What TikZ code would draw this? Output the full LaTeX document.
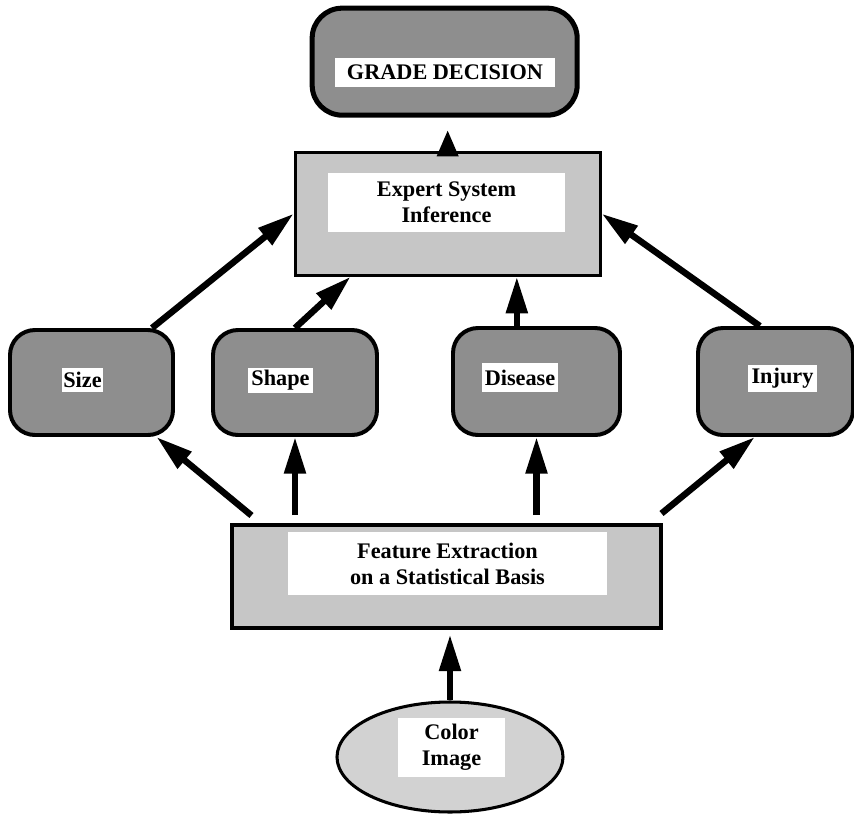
\documentclass[tikz,border=0pt]{standalone}
\usepackage{fontspec}
\setmainfont{Liberation Serif}
\usetikzlibrary{arrows.meta,shapes.geometric}
\definecolor{shade-dark}{HTML}{8E8E8E}
\definecolor{shade-light}{HTML}{C6C6C6}
\definecolor{shade-pale}{HTML}{D2D2D2}

\begin{document}
\begin{tikzpicture}[every node/.style={font=\fontsize{19}{22}\selectfont\bfseries},
    roundbox/.style={draw, line width=3.4pt, fill=shade-dark, rounded corners=0.75cm},
    rectbox/.style={draw, line width=2.6pt, fill=shade-light},
    tag/.style={fill=white, inner sep=0pt, align=center},
    arr/.style={-{Triangle[length=1.1cm,width=0.62cm]}, line width=5.5pt}]
    \useasboundingbox (0,0) rectangle (25.62,-24.42);
    % top of the chain
    \node[roundbox, line width=4.3pt, rounded corners=0.9cm, minimum width=7.95cm,
      minimum height=3.21cm] (gd) at (13.34, -1.85) {};
    \node[tag, minimum width=6.6cm, minimum height=0.87cm] (gdt) at (13.35, -2.175)
      {GRADE DECISION};
    \node[rectbox, minimum width=9.15cm, minimum height=3.69cm] (es) at (13.43, -6.41) {};
    \node[tag, minimum width=7.11cm, minimum height=1.77cm] (est) at (13.395, -6.075)
      {Expert System\\Inference};
    % feature row
    \node[roundbox, minimum width=4.89cm, minimum height=3.15cm] (sz) at (2.745, -11.475) {};
    \node[tag, minimum width=1.23cm, minimum height=0.72cm] (szt) at (2.475, -11.4) {Size};
    \node[roundbox, minimum width=4.92cm, minimum height=3.15cm] (sh) at (8.85, -11.475) {};
    \node[tag, minimum width=1.95cm, minimum height=0.75cm] (sht) at (8.415, -11.415) {Shape};
    \node[roundbox, minimum width=5.01cm, minimum height=3.21cm] (ds) at (16.095, -11.445) {};
    \node[tag, minimum width=2.28cm, minimum height=0.87cm] (dst) at (15.6, -11.325) {Disease};
    \node[roundbox, minimum width=4.65cm, minimum height=3.21cm] (ij) at (23.265, -11.445) {};
    \node[tag, minimum width=2.07cm, minimum height=0.81cm] (ijt) at (23.475, -11.355) {Injury};
    % extraction and input
    \node[rectbox, minimum width=12.87cm, minimum height=3.09cm] (fe) at (13.395, -17.295) {};
    \node[tag, minimum width=9.57cm, minimum height=1.89cm] (fet) at (13.425, -16.905)
      {Feature Extraction\\on a Statistical Basis};
    \node[ellipse, draw, line width=2.6pt, fill=shade-pale, minimum width=6.78cm,
      minimum height=3.3cm] (ci) at (13.5, -22.71) {};
    \node[tag, minimum width=3.21cm, minimum height=1.77cm] (cit) at (13.545, -22.425)
      {Color\\Image};
    % arrows
    \draw[-{Triangle[length=0.8cm,width=0.6cm]}, line width=5.5pt, shorten >=0.36cm]
      (es.north) -- (es.north |- gd.south);
    \draw[arr] (sz.42) -- (es.west);
    \draw[arr] (sh.north) -- (es.213);
    \draw[arr] ([xshift=-0.59cm]ds.north) -- ([xshift=-0.59cm]ds.north |- es.south);
    \draw[arr] ([xshift=-0.47cm]ij.north) -- (es.east);
    \draw[arr] ([xshift=0.63cm, yshift=0.24cm]fe.north west) -- (sz.-40);
    \draw[arr, shorten <=0.25cm] (fe.north -| sh.south) -- (sh.south);
    \draw[arr, shorten <=0.25cm] (fe.north -| ds.south) -- (ds.south);
    \draw[arr] ([xshift=-0.03cm, yshift=0.3cm]fe.north east) -- ([xshift=-0.62cm]ij.south);
    \draw[arr, shorten >=0.15cm] (ci.north) -- (ci.north |- fe.south);
  \end{tikzpicture}
\end{document}
